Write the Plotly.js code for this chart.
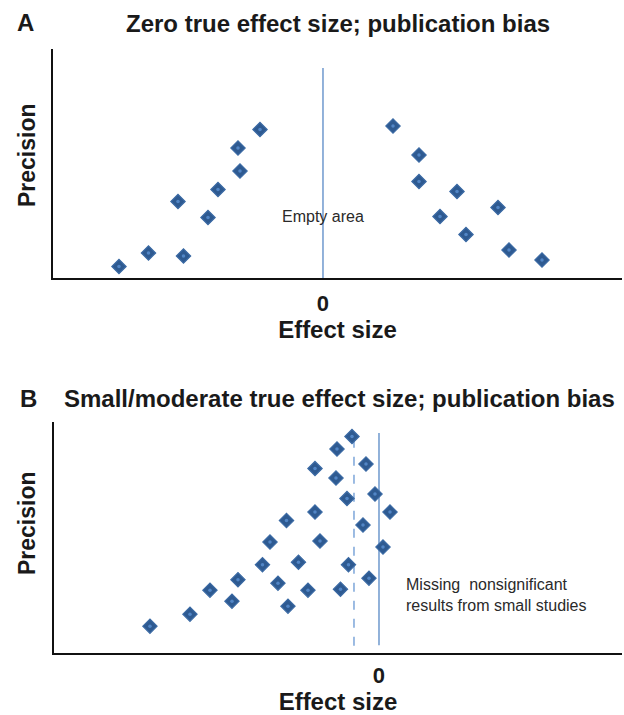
<!DOCTYPE html>
<html>
<head>
<meta charset="utf-8">
<script src="https://cdn.plot.ly/plotly-3.0.1.min.js"></script>
<style>html,body{margin:0;padding:0;background:#fff;}#chart{width:624px;height:715px;}</style>
</head>
<body>
<div id="chart"></div>
<script>
// Panel A: zero true effect size, publication bias
const aEffect = [-1.26, -1.70, -1.66, -2.10, -2.90, -2.30, -3.49, -2.79, -4.08,
                 1.40, 1.92, 1.92, 2.68, 3.50, 2.34, 2.86, 3.72, 4.38];
const aPrecision = [2.97, 2.60, 2.14, 1.77, 1.53, 1.21, 0.50, 0.44, 0.23,
                    3.04, 2.46, 1.93, 1.73, 1.41, 1.23, 0.87, 0.56, 0.36];
// Panel B: small/moderate true effect size, publication bias
const bEffect = [-0.54, -0.84, -0.26, -1.28, -0.86, -0.08, -0.64, -1.28, 0.22, -1.85,
                 -0.32, -2.18, -1.18, 0.08, -2.33, -1.61, -0.61, -2.82, -2.02, -0.20,
                 -3.38, -1.42, -0.77, -2.94, -1.82, -3.78, -4.58];
const bPrecision = [4.32, 4.07, 3.77, 3.68, 3.49, 3.17, 3.08, 2.81, 2.81, 2.64,
                    2.55, 2.21, 2.23, 2.11, 1.76, 1.81, 1.76, 1.46, 1.39, 1.49,
                    1.25, 1.25, 1.27, 1.03, 0.93, 0.77, 0.53];
// Reference lines (effect size value, precision extent)
const aZeroLine = {x: [0, 0], y: [0, 4.2]};
const bZeroLine = {x: [0, 0], y: [0.15, 4.39]};
const bDashedLine = {x: [-0.5, -0.5], y: [0.14, 4.29]};
const tickVals = [0];
const tickText = ['0'];

const FONT = '"Liberation Sans", Arial, Helvetica, sans-serif';
const INK = '#1a1a1a';
const DIAMOND = '#2e5a91';
const DOT = '#5286c6';
const LINE = '#4a7fc1';

function pts(x, y, xa, ya) {
  return [
    {x: x, y: y, xaxis: xa, yaxis: ya, type: 'scatter', mode: 'markers', hoverinfo: 'skip',
     marker: {symbol: 'diamond', size: 11, color: DIAMOND, line: {color: '#3b6aa4', width: 1.2}}},
    {x: x, y: y, xaxis: xa, yaxis: ya, type: 'scatter', mode: 'markers', hoverinfo: 'skip',
     marker: {symbol: 'circle', size: 3.5, color: DOT}}
  ];
}

const traces = [
  {x: aZeroLine.x, y: aZeroLine.y, xaxis: 'x', yaxis: 'y', type: 'scatter', mode: 'lines',
   line: {color: LINE, width: 1.2}, hoverinfo: 'skip'},
  {x: bZeroLine.x, y: bZeroLine.y, xaxis: 'x2', yaxis: 'y2', type: 'scatter', mode: 'lines',
   line: {color: LINE, width: 1.2}, hoverinfo: 'skip'},
  {x: bDashedLine.x, y: bDashedLine.y, xaxis: 'x2', yaxis: 'y2', type: 'scatter', mode: 'lines',
   line: {color: '#5b8fd0', width: 1.2, dash: 'dash'}, hoverinfo: 'skip'},
  ...pts(aEffect, aPrecision, 'x', 'y'),
  ...pts(bEffect, bPrecision, 'x2', 'y2')
];

const xCommon = {
  showline: true, linecolor: '#111', linewidth: 2, showgrid: false, zeroline: false,
  tickvals: tickVals, ticktext: tickText, ticks: 'outside', ticklen: 5, tickcolor: 'rgba(0,0,0,0)',
  tickfont: {family: FONT, size: 22, color: INK, weight: 'bold'},
  fixedrange: true
};
const yCommon = {
  showline: true, linecolor: '#111', linewidth: 2, showgrid: false, zeroline: false,
  showticklabels: false, ticks: '', fixedrange: true
};
const titleFont = {family: FONT, size: 24, color: INK, weight: 'bold'};
const boldFont = (s) => ({family: FONT, size: s, color: INK, weight: 'bold'});

const layout = {
  width: 624, height: 715,
  margin: {l: 0, r: 0, t: 0, b: 0},
  paper_bgcolor: '#fff', plot_bgcolor: '#fff',
  showlegend: false,
  xaxis: Object.assign({}, xCommon, {domain: [0.0849, 0.9968], range: [-5.4, 5.98], anchor: 'y',
    title: {text: 'Effect size', font: titleFont, standoff: 6}}),
  yaxis: Object.assign({}, yCommon, {domain: [0.6112, 0.9315], range: [0, 4.58], anchor: 'x'}),
  xaxis2: Object.assign({}, xCommon, {domain: [0.0865, 0.9968], range: [-6.5, 4.86], anchor: 'y2',
    ticklen: 2, title: {text: 'Effect size', font: titleFont, standoff: 10}}),
  yaxis2: Object.assign({}, yCommon, {domain: [0.0871, 0.4098], range: [0, 4.61], anchor: 'x2'}),
  annotations: [
    {text: 'A', xref: 'paper', yref: 'paper', x: 25 / 624, y: 1 - 23 / 715, showarrow: false,
     xanchor: 'center', yanchor: 'middle', font: boldFont(24)},
    {text: 'Zero true effect size; publication bias', xref: 'paper', yref: 'paper',
     x: 338 / 624, y: 1 - 24 / 715, showarrow: false, xanchor: 'center', yanchor: 'middle',
     font: boldFont(24)},
    {text: 'B', xref: 'paper', yref: 'paper', x: 28 / 624, y: 1 - 398 / 715, showarrow: false,
     xanchor: 'center', yanchor: 'middle', font: boldFont(24)},
    {text: 'Small/moderate true effect size; publication bias', xref: 'paper', yref: 'paper',
     x: 339 / 624, y: 1 - 398 / 715, showarrow: false, xanchor: 'center', yanchor: 'middle',
     font: boldFont(24)},
    {text: 'Precision', xref: 'paper', yref: 'paper', x: 27 / 624, y: 1 - 155 / 715,
     showarrow: false, textangle: -90, xanchor: 'center', yanchor: 'middle', font: boldFont(23)},
    {text: 'Precision', xref: 'paper', yref: 'paper', x: 27 / 624, y: 1 - 523 / 715,
     showarrow: false, textangle: -90, xanchor: 'center', yanchor: 'middle', font: boldFont(23)},
    {text: 'Empty area', xref: 'x', yref: 'y', x: 0, y: 1.22, showarrow: false,
     xanchor: 'center', yanchor: 'middle', font: {family: FONT, size: 16, color: '#2a2a2a'}},
    {text: 'Missing\u00a0\u00a0nonsignificant<br>results from small studies', xref: 'x2', yref: 'y2',
     x: 0.5, y: 1.15, showarrow: false, align: 'left', xanchor: 'left', yanchor: 'middle',
     font: {family: FONT, size: 16, color: '#2a2a2a'}}
  ]
};

Plotly.newPlot('chart', traces, layout, {displayModeBar: false, staticPlot: true});
</script>
</body>
</html>
